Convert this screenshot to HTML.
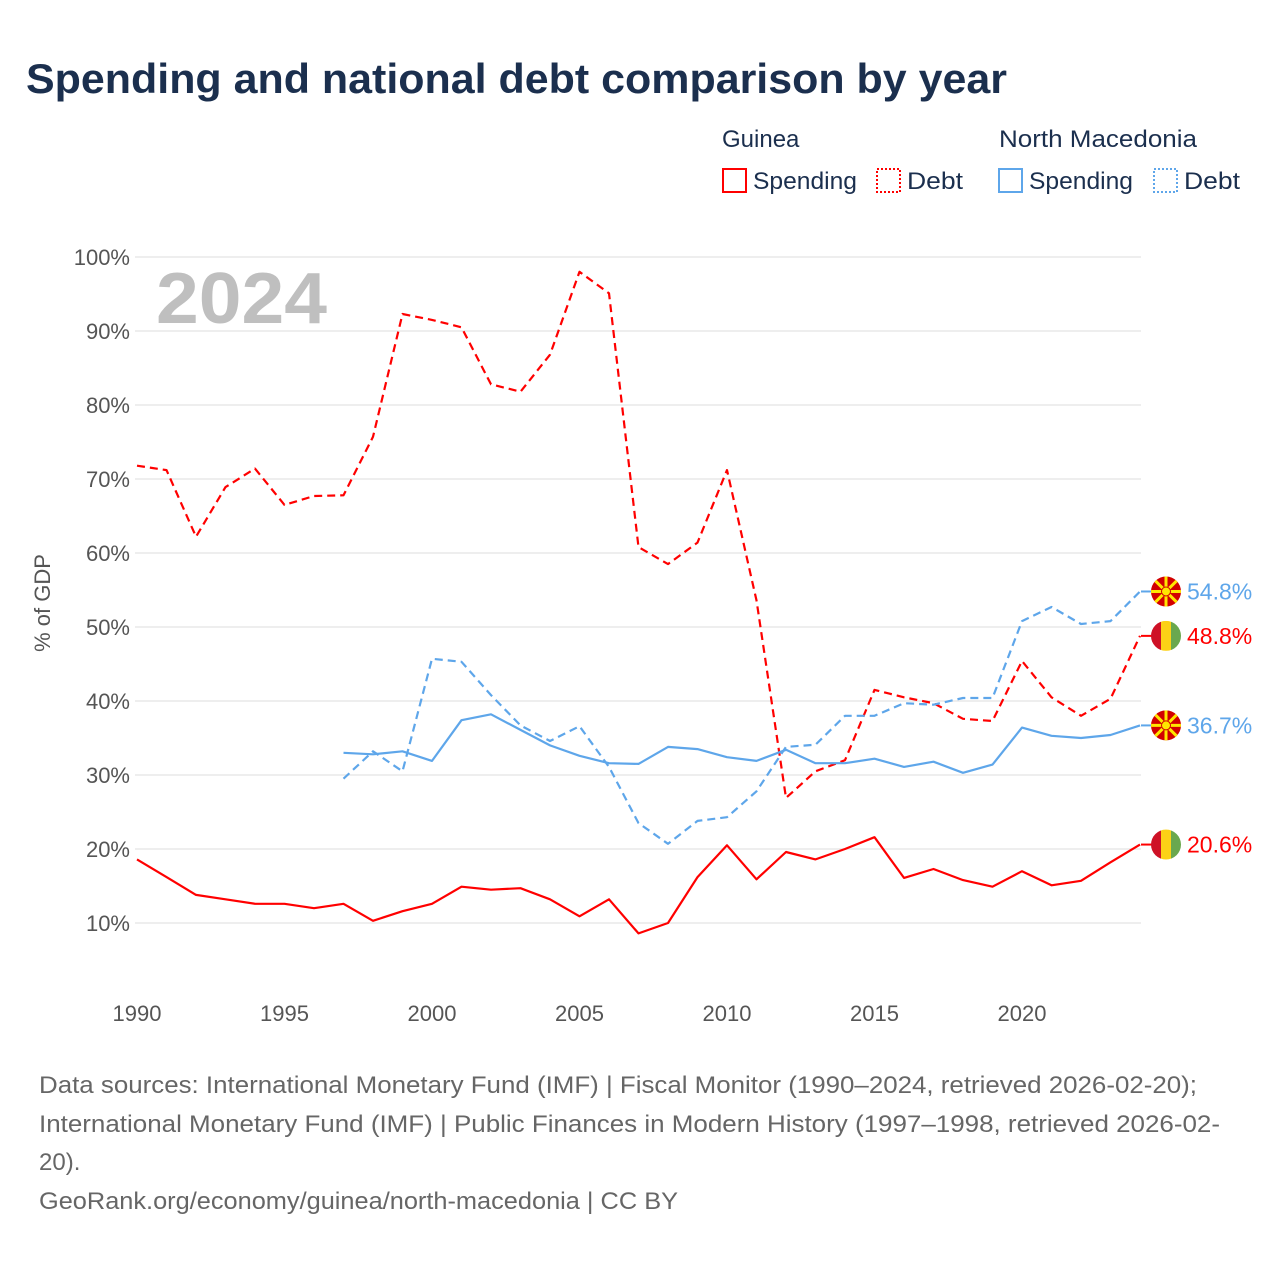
<!DOCTYPE html>
<html><head><meta charset="utf-8">
<style>
body{margin:0;background:#fff;font-family:"Liberation Sans",sans-serif;}
#wrap{position:relative;width:1280px;height:1280px;overflow:hidden;}
svg text{font-family:"Liberation Sans",sans-serif;}
</style></head>
<body>
<div id="wrap">
<svg id="chart" width="1280" height="1280">
<text x="26" y="93" font-size="42" font-weight="bold" fill="#1b2f4e" textLength="981" lengthAdjust="spacingAndGlyphs">Spending and national debt comparison by year</text>
<g>
<text x="722" y="147" font-size="24" fill="#1b2f4e">Guinea</text>
<text x="999" y="147" font-size="24" fill="#1b2f4e" textLength="198" lengthAdjust="spacingAndGlyphs">North Macedonia</text>
<rect x="723" y="169" width="23" height="23" fill="none" stroke="#ff0000" stroke-width="2"/>
<text x="753" y="189" font-size="24" fill="#1b2f4e" textLength="104" lengthAdjust="spacingAndGlyphs">Spending</text>
<rect x="877" y="169" width="23" height="23" fill="none" stroke="#ff0000" stroke-width="2" stroke-dasharray="2,2"/>
<text x="907" y="189" font-size="24" fill="#1b2f4e" textLength="56" lengthAdjust="spacingAndGlyphs">Debt</text>
<rect x="999" y="169" width="23" height="23" fill="none" stroke="#5ea6ea" stroke-width="2"/>
<text x="1029" y="189" font-size="24" fill="#1b2f4e" textLength="104" lengthAdjust="spacingAndGlyphs">Spending</text>
<rect x="1154" y="169" width="23" height="23" fill="none" stroke="#5ea6ea" stroke-width="2" stroke-dasharray="2,2"/>
<text x="1184" y="189" font-size="24" fill="#1b2f4e" textLength="56" lengthAdjust="spacingAndGlyphs">Debt</text>
</g>
<text x="156" y="323" font-size="72" font-weight="bold" fill="#bfbfbf" textLength="171" lengthAdjust="spacingAndGlyphs">2024</text>
<text transform="translate(50,603) rotate(-90)" text-anchor="middle" font-size="22" fill="#555">% of GDP</text>
<g id="grid"></g><g id="lines"></g><g id="ends"></g>
<g font-size="24" fill="#666">
<text x="39" y="1093" textLength="1158" lengthAdjust="spacingAndGlyphs">Data sources: International Monetary Fund (IMF) | Fiscal Monitor (1990–2024, retrieved 2026-02-20);</text>
<text x="39" y="1132" textLength="1181" lengthAdjust="spacingAndGlyphs">International Monetary Fund (IMF) | Public Finances in Modern History (1997–1998, retrieved 2026-02-</text>
<text x="39" y="1170">20).</text>
<text x="39" y="1209" textLength="639" lengthAdjust="spacingAndGlyphs">GeoRank.org/economy/guinea/north-macedonia | CC BY</text>
</g>
</svg>
</div>
<script>
const yTicks=[10,20,30,40,50,60,70,80,90,100];
const xTicks=[1990,1995,2000,2005,2010,2015,2020];
const guineaYears=[1990,1991,1992,1993,1994,1995,1996,1997,1998,1999,2000,2001,2002,2003,2004,2005,2006,2007,2008,2009,2010,2011,2012,2013,2014,2015,2016,2017,2018,2019,2020,2021,2022,2023,2024];
const guineaDebt=[71.8,71.2,62.2,68.9,71.4,66.5,67.7,67.8,75.7,92.3,91.5,90.5,82.8,81.8,86.8,98,95.1,60.8,58.5,61.4,71.2,53.6,26.9,30.5,32,41.5,40.5,39.7,37.6,37.3,45.4,40.5,38,40.3,48.8];
const guineaSpending=[18.6,16.2,13.8,13.2,12.6,12.6,12.0,12.6,10.3,11.6,12.6,14.9,14.5,14.7,13.2,10.9,13.2,8.6,10.0,16.2,20.5,15.9,19.6,18.6,20,21.6,16.1,17.3,15.8,14.9,17.0,15.1,15.7,18.2,20.6];
const nmYears=[1997,1998,1999,2000,2001,2002,2003,2004,2005,2006,2007,2008,2009,2010,2011,2012,2013,2014,2015,2016,2017,2018,2019,2020,2021,2022,2023,2024];
const nmSpending=[33,32.8,33.2,31.9,37.4,38.2,36.1,34,32.6,31.6,31.5,33.8,33.5,32.4,31.9,33.4,31.6,31.6,32.2,31.1,31.8,30.3,31.4,36.4,35.3,35,35.4,36.7];
const nmDebt=[29.5,33.2,30.5,45.7,45.3,40.8,36.7,34.6,36.6,31.1,23.5,20.7,23.8,24.3,27.8,33.8,34.1,38,38,39.7,39.5,40.4,40.4,50.8,52.7,50.4,50.8,54.8];

const NS='http://www.w3.org/2000/svg';
function X(yr){return 137+(yr-1990)*29.5;}
function Y(v){return 997-v*7.4;}
function mk(tag,attrs,parent){const e=document.createElementNS(NS,tag);for(const k in attrs)e.setAttribute(k,attrs[k]);parent.appendChild(e);return e;}
const grid=document.getElementById('grid');
yTicks.forEach(t=>{
  const l=mk('line',{x1:135,x2:1141,y1:Y(t),y2:Y(t),stroke:'#e8e8e8','stroke-width':1.5},grid);
  
  
  const tx=mk('text',{x:130,y:Y(t)+8,'text-anchor':'end','font-size':22,fill:'#555'},grid);
  tx.textContent=t+'%';
  
  
});
xTicks.forEach(t=>{
  const tx=mk('text',{x:X(t),y:1021,'text-anchor':'middle','font-size':22,fill:'#555'},grid);
  tx.textContent=t;
  
  
});
const lines=document.getElementById('lines');
function series(years,vals,color,dash,name){
  const d=years.map((yr,i)=>(i?'L':'M')+X(yr).toFixed(1)+' '+Y(vals[i]).toFixed(1)).join(' ');
  const p=mk('path',{d:d,fill:'none',stroke:color,'stroke-width':2.2,'stroke-linejoin':'round'},lines);
  if(dash)p.setAttribute('stroke-dasharray','8,5');
  
  
}
series(guineaYears,guineaDebt,'#ff0000',true,'guinea-debt-line');
series(guineaYears,guineaSpending,'#ff0000',false,'guinea-spending-line');
series(nmYears,nmDebt,'#5ea6ea',true,'nm-debt-line');
series(nmYears,nmSpending,'#5ea6ea',false,'nm-spending-line');

const ends=document.getElementById('ends');
function flag(cy,type,name){
  const g=mk('g',{},ends);
  
  
  const cx=1166,r=15;
  const id='c'+Math.round(cy);
  const cp=mk('clipPath',{id:id},g);mk('circle',{cx:cx,cy:cy,r:r},cp);
  const f=mk('g',{'clip-path':'url(#'+id+')'},g);
  if(type==='gn'){
    mk('rect',{x:cx-r,y:cy-r,width:10,height:2*r,fill:'#ce1126'},f);
    mk('rect',{x:cx-5,y:cy-r,width:10,height:2*r,fill:'#fcd116'},f);
    mk('rect',{x:cx+5,y:cy-r,width:10,height:2*r,fill:'#6aa84f'},f);
  }else{
    mk('rect',{x:cx-r,y:cy-r,width:2*r,height:2*r,fill:'#d20000'},f);
    for(let a=0;a<8;a++){
      const an=a*Math.PI/4;
      mk('line',{x1:cx,y1:cy,x2:cx+20*Math.cos(an),y2:cy+20*Math.sin(an),stroke:'#ffe600','stroke-width':3},f);
    }
    mk('circle',{cx:cx,cy:cy,r:4.5,fill:'#ffe600',stroke:'#d20000','stroke-width':1},f);
  }
}
function label(v,color,type,name){
  const cy=Y(v);
  mk('line',{x1:1141,x2:1152,y1:cy,y2:cy,stroke:color,'stroke-width':2},ends);
  flag(cy,type,name+'-flag');
  const t=mk('text',{x:1187,y:cy+8,'font-size':23,fill:color},ends);
  t.textContent=v.toFixed(1)+'%';
  
  
}
label(nmDebt[nmDebt.length-1],'#5ea6ea','nm','nm-debt-end');
label(guineaDebt[guineaDebt.length-1],'#ff0000','gn','guinea-debt-end');
label(nmSpending[nmSpending.length-1],'#5ea6ea','nm','nm-spending-end');
label(guineaSpending[guineaSpending.length-1],'#ff0000','gn','guinea-spending-end');
</script>
</body></html>
